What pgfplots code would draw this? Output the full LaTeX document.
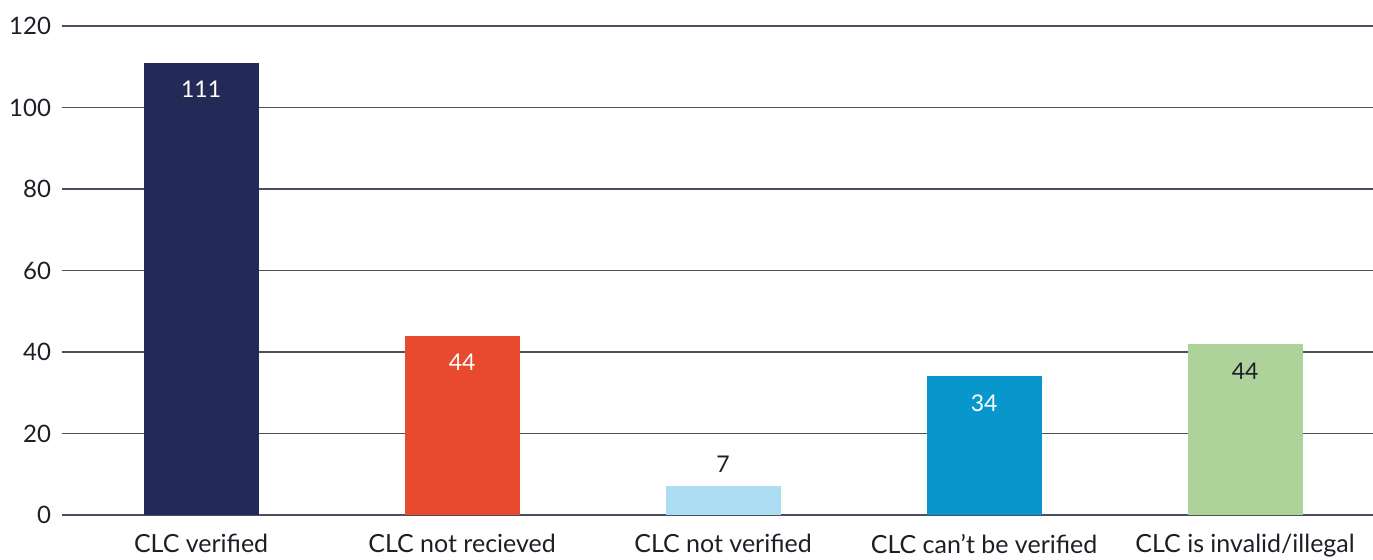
\documentclass[border=0pt]{standalone}
\usepackage{pgfplots}
\pgfplotsset{compat=1.18}
\usepackage{fontspec}
\setmainfont{Lato}
\definecolor{cnavy}{HTML}{232A58}
\definecolor{cred}{HTML}{E84A2E}
\definecolor{clight}{HTML}{ADDDF3}
\definecolor{cblue}{HTML}{0797CC}
\definecolor{cgreen}{HTML}{AED39A}
\definecolor{cgrid}{HTML}{4A4F62}
\definecolor{ctext}{HTML}{1E1E28}
\begin{document}
\begin{tikzpicture}
\useasboundingbox (-31pt,-22pt) rectangle (655.5pt,257.5pt);
\begin{axis}[
  scale only axis,
  width=655.5pt, height=244.5pt,
  xmin=-0.533, xmax=4.49,
  ymin=0, ymax=120,
  ytick={0,20,...,120},
  xtick={0,1,2,3,4},
  xticklabels={CLC verified, CLC not recieved, CLC not verified, CLC can’t be verified, CLC is invalid/illegal},
  axis line style={draw=none},
  major tick length=0pt,
  ymajorgrids,
  grid style={cgrid, line width=0.6pt},
  axis on top=false,
  tick label style={font=\fontsize{12}{14}\selectfont, text=ctext},
  /pgf/number format/assume math mode=true,
  yticklabel style={xshift=-2pt},
  xticklabel style={yshift=-6pt, font=\fontsize{12.5}{14}\selectfont},
  ybar, bar width=57.5pt, bar shift=0pt,
  every axis plot/.append style={draw=none},
  point meta=explicit symbolic,
  nodes near coords,
  every node near coord/.append style={font=\fontsize{11.5}{13}\selectfont, anchor=center},
  clip=false,
]
\addplot[fill=cnavy, nodes near coords style={text=white, yshift=-13.5pt}] coordinates {(0,111) [111]};
\addplot[fill=cred, nodes near coords style={text=white, yshift=-13.5pt}] coordinates {(1,44) [44]};
\addplot[fill=clight, nodes near coords style={text=ctext, yshift=11pt}] coordinates {(2,7) [7]};
\addplot[fill=cblue, nodes near coords style={text=white, yshift=-13.5pt}] coordinates {(3,34) [34]};
\addplot[fill=cgreen, nodes near coords style={text=ctext, yshift=-13.5pt}] coordinates {(4,42) [44]};
\end{axis}
\end{tikzpicture}
\end{document}
